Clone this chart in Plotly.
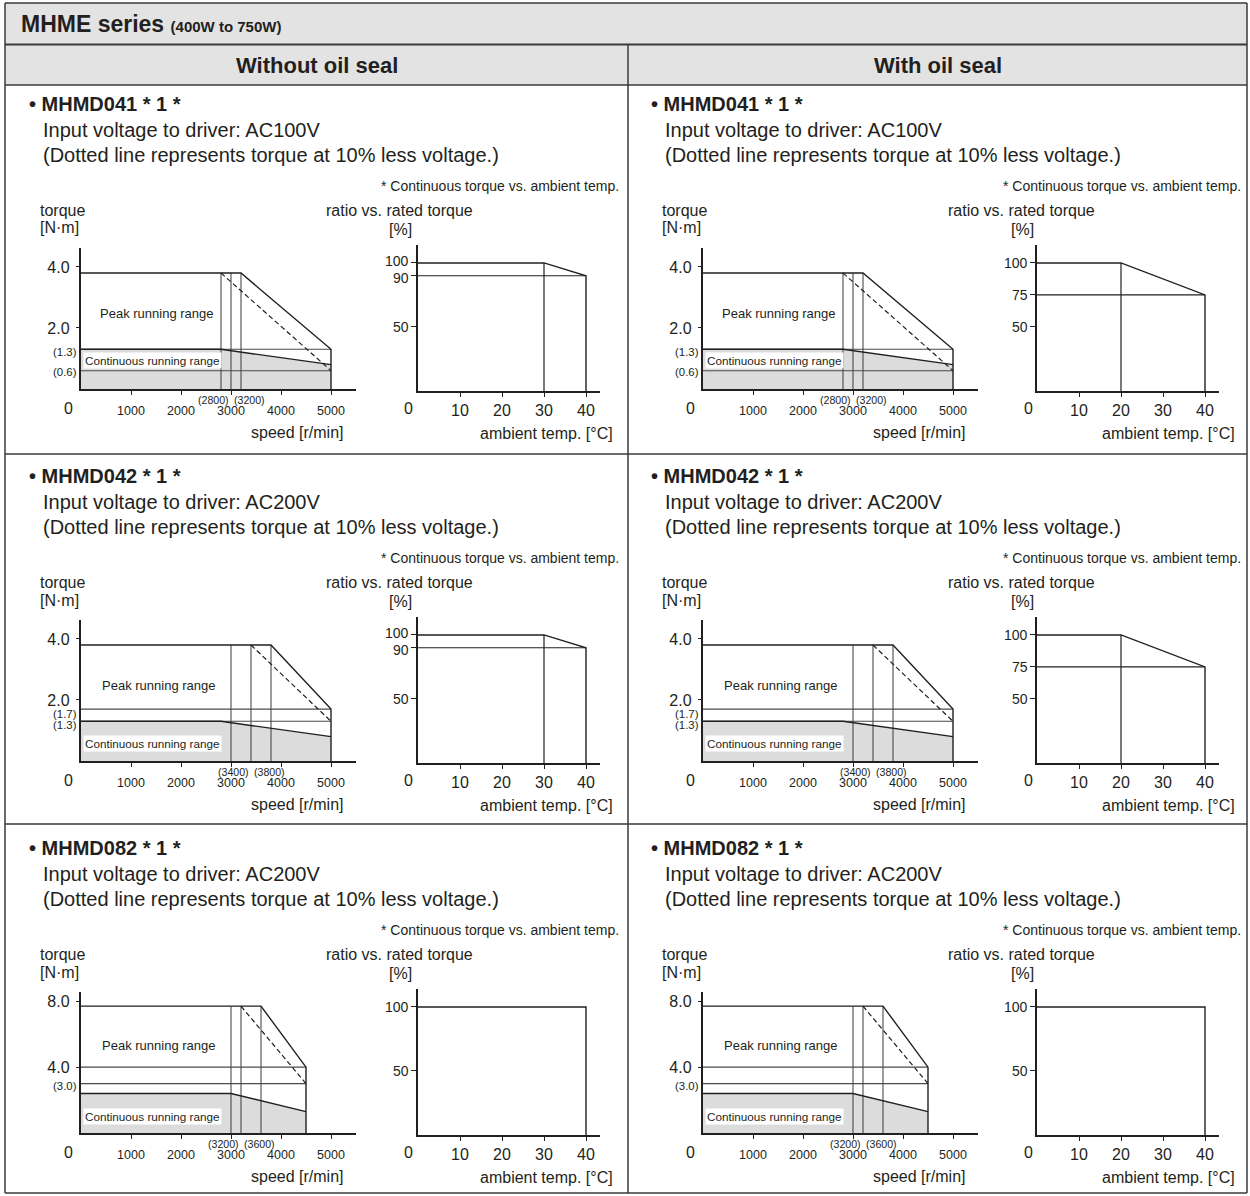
import os, glob
import plotly.graph_objects as go

W, H = 1250, 1196

# ---------------- data ----------------
series_title = "MHME series"
series_sub = "(400W to 750W)"
column_titles = ["Without oil seal", "With oil seal"]
models = ["MHMD041", "MHMD042", "MHMD082"]
input_voltages = ["AC100V", "AC200V", "AC200V"]

speed_tickvals = [1000, 2000, 3000, 4000, 5000]
speed_ticktext = ["1000", "2000", "3000", "4000", "5000"]
temp_tickvals = [10, 20, 30, 40]
temp_ticktext = ["10", "20", "30", "40"]

torque_tickvals = [[2.0, 4.0], [2.0, 4.0], [4.0, 8.0]]
torque_ticktext = [["2.0", "4.0"], ["2.0", "4.0"], ["4.0", "8.0"]]
torque_axis_max = [4.62, 4.62, 8.56]
speed_axis_max = 5500

peak_torque = [3.8, 3.8, 7.7]
peak_corner_speed = [3200, 3800, 3600]
max_speed = [5000, 5000, 4500]
peak_torque_at_max = [1.3, 1.7, 4.0]
dotted_corner_speed = [2800, 3400, 3200]
dotted_torque_at_max = [0.6, 1.3, 3.0]
rated_torque = [1.3, 1.3, 2.4]
cont_corner_speed = [2800, 2800, 3000]
cont_torque_at_max = [0.8, 0.8, 1.3]
guide_speeds = [[2800, 3000, 3200], [3000, 3400, 3800], [3000, 3200, 3600]]
guide_torques = [[1.3, 0.6], [1.7, 1.3], [4.0, 3.0]]
torque_marks = [["(1.3)", "(0.6)"], ["(1.7)", "(1.3)"], ["(3.0)"]]
torque_mark_vals = [[1.3, 0.6], [1.7, 1.3], [3.0]]
speed_marks = [["(2800)", "(3200)"], ["(3400)", "(3800)"], ["(3200)", "(3600)"]]
speed_mark_split = [3000, 3400, 3200]
peak_label_pos = [(330, 2.49), (380, 2.47), (380, 5.29)]
cont_label_pos = [(40, 0.93), (40, 0.56), (40, 0.99)]

# ratio vs ambient temperature  [column][row]
ratio_corner_temp = [[30, 30, 40], [20, 20, 40]]
ratio_at_40 = [[90, 90, 100], [75, 75, 100]]
ratio_tickvals = [[[50, 90, 100], [50, 90, 100], [50, 100]],
                  [[50, 75, 100], [50, 75, 100], [50, 100]]]
temp_axis_max = 43.3
ratio_axis_max = 114.0

# ---------------- style ----------------
FONT = "Liberation Sans, Arial, Helvetica, sans-serif"


def _has_narrow():
    dirs = ["/usr/share/fonts", "/usr/local/share/fonts",
            os.path.expanduser("~/.fonts"), os.path.expanduser("~/.local/share/fonts")]
    for d in dirs:
        if os.path.isdir(d) and glob.glob(os.path.join(d, "**", "*SansNarrow*"), recursive=True):
            return True
    return False


if _has_narrow():
    NARROW = "Liberation Sans Narrow"
    SZ_XT, SZ_PEAK, SZ_CONT, SZ_SMALL, SZ_PAREN = 15, 16, 14.5, 12.5, 13.5
else:
    NARROW = FONT
    SZ_XT, SZ_PEAK, SZ_CONT, SZ_SMALL, SZ_PAREN = 12.5, 13, 11.7, 10.6, 11.4

TXT = "#231f20"
LINE = "#231f20"
GUIDE = "#4a4a4a"
FILL = "#dcdcdc"
BAND = "#e3e3e3"
BORDER = "#3a3a3a"

ROW_DY = [0, 372, 744]
COL_DX_T = [0, 622]
COL_DX_R = [0, 619]
COL_DX_TXT = [0, 622]
PAREN_SHIFT = [[-3, -1.5], [-4.5, -4], [-2]]

fig = go.Figure()
layout = {}
annotations = []
shapes = []


def px_x(x):
    return x / W


def px_y(y):
    return 1 - y / H


def ptext(x, y, text, size, anchor="left", family=FONT, color=TXT):
    annotations.append(dict(x=px_x(x), y=px_y(y), xref="paper", yref="paper", text=text,
                            showarrow=False, xanchor=anchor, yanchor="middle",
                            font=dict(size=size, color=color, family=family)))


def axis_names(i):
    return ("xaxis" if i == 1 else f"xaxis{i}", "yaxis" if i == 1 else f"yaxis{i}",
            "x" if i == 1 else f"x{i}", "y" if i == 1 else f"y{i}")


def line(xs, ys, xr, yr, color=LINE, width=1.3, dash=None):
    fig.add_trace(go.Scatter(x=xs, y=ys, xaxis=xr, yaxis=yr, mode="lines",
                             line=dict(color=color, width=width, dash=dash),
                             hoverinfo="skip", showlegend=False))


def axis_style(**kw):
    d = dict(showgrid=False, zeroline=False, showline=True, linecolor=LINE, linewidth=1.5,
             ticks="outside", ticklen=4, tickwidth=1.2, tickcolor=LINE, fixedrange=True,
             tickfont=dict(size=16, color=TXT, family=FONT), tickmode="array")
    d.update(kw)
    return d


# ---------------- table frame ----------------
L, R, T, B = 5, 1247, 3, 1193
MID = 628
shapes.append(dict(type="rect", xref="paper", yref="paper", x0=px_x(L), x1=px_x(R), y0=px_y(44), y1=px_y(T),
                   fillcolor=BAND, line=dict(width=0), layer="below"))
shapes.append(dict(type="rect", xref="paper", yref="paper", x0=px_x(L), x1=px_x(R), y0=px_y(85), y1=px_y(45),
                   fillcolor=BAND, line=dict(width=0), layer="below"))
for yy, wdt in [(T, 1.5), (44.5, 2.2), (85, 1.5), (454, 1.5), (824, 1.5), (B, 1.5)]:
    shapes.append(dict(type="line", xref="paper", yref="paper", x0=px_x(L), x1=px_x(R), y0=px_y(yy), y1=px_y(yy),
                       line=dict(color=BORDER, width=wdt)))
for xx, y0 in [(L, T), (R, T), (MID, 44.5)]:
    shapes.append(dict(type="line", xref="paper", yref="paper", x0=px_x(xx), x1=px_x(xx), y0=px_y(y0), y1=px_y(B),
                       line=dict(color=BORDER, width=1.5)))

annotations.append(dict(x=px_x(19), y=px_y(24), xref="paper", yref="paper", showarrow=False,
                        xanchor="left", yanchor="middle",
                        text=f"<b>{series_title}</b> <b><span style='font-size:15px'>{series_sub}</span></b>",
                        font=dict(size=23, color=TXT, family=FONT)))
for c in range(2):
    cx = (L + MID) / 2 if c == 0 else (MID + R) / 2
    ptext(cx, 65, f"<b>{column_titles[c]}</b>", 22, anchor="center")

# ---------------- panels ----------------
idx = 0
for c in range(2):
    for r in range(3):
        dy = ROW_DY[r]
        tx = COL_DX_TXT[c]
        # texts
        ptext(27 + tx, 104 + dy, f"<b>• {models[r]} * 1 *</b>", 20)
        ptext(41 + tx, 130 + dy, f"Input voltage to driver: {input_voltages[r]}", 20)
        ptext(41 + tx, 155 + dy, "(Dotted line represents torque at 10% less voltage.)", 20)
        ptext(621 + tx, 186 + dy, "* Continuous torque vs. ambient temp.", 14, anchor="right")
        ptext(38 + tx, 210 + dy, "torque", 16)
        ptext(38 + tx, 228 + dy, "[N·m]", 16)
        ptext(475 + tx, 210 + dy, "ratio vs. rated torque", 16, anchor="right")
        ptext(400 + tx, 229 + dy, "[%]", 16, anchor="center")
        ptext(345 + tx, 432 + dy, "speed [r/min]", 16, anchor="right")
        ptext(615 + tx, 433 + dy, "ambient temp. [°C]", 16, anchor="right")

        # ---- torque vs speed chart ----
        idx += 1
        xk, yk, xr, yr = axis_names(idx)
        x0 = 81 + COL_DX_T[c]
        x1 = x0 + speed_axis_max * 0.05
        ytop, ybot = 248 + dy, 389 + dy
        layout[xk] = axis_style(domain=[px_x(x0), px_x(x1)], range=[0, speed_axis_max], anchor=yr,
                                tickvals=speed_tickvals, ticktext=speed_ticktext,
                                tickfont=dict(size=SZ_XT, color=TXT, family=NARROW),
                                ticklabelstandoff=5)
        layout[yk] = axis_style(domain=[px_y(ybot), px_y(ytop)], range=[0, torque_axis_max[r]], anchor=xr,
                                tickvals=torque_tickvals[r], ticktext=torque_ticktext[r], ticklen=3.5,
                                ticklabelstandoff=3)
        ms, pt, rt = max_speed[r], peak_torque[r], rated_torque[r]
        # continuous running range (shaded)
        fig.add_trace(go.Scatter(x=[0, 0, cont_corner_speed[r], ms, ms],
                                 y=[0, rt, rt, cont_torque_at_max[r], 0],
                                 xaxis=xr, yaxis=yr, mode="lines", fill="toself", fillcolor=FILL,
                                 line=dict(width=0, color=FILL), hoverinfo="skip", showlegend=False))
        # guide lines
        for g in guide_torques[r]:
            line([0, ms], [g, g], xr, yr, color=GUIDE, width=1.1)
        for s in guide_speeds[r]:
            line([s, s], [0, pt], xr, yr, color=GUIDE, width=1.1)
        # continuous boundary
        line([0, cont_corner_speed[r], ms], [rt, rt, cont_torque_at_max[r]], xr, yr, width=1.4)
        # peak boundary
        line([0, peak_corner_speed[r], ms, ms], [pt, pt, peak_torque_at_max[r], 0], xr, yr, width=1.4)
        # dotted (10% less voltage)
        line([dotted_corner_speed[r], ms], [pt, dotted_torque_at_max[r]], xr, yr, width=1.2, dash="5px,3px")

        # labels inside torque chart
        annotations.append(dict(x=0, y=0, xref=xr, yref=yr, text="0", showarrow=False,
                                xshift=-13, yshift=-19, font=dict(size=16, color=TXT, family=FONT)))
        for k, (lab, v) in enumerate(zip(torque_marks[r], torque_mark_vals[r])):
            annotations.append(dict(x=0, y=v, xref=xr, yref=yr, text=lab, showarrow=False,
                                    xanchor="right", xshift=-2, yshift=PAREN_SHIFT[r][k],
                                    font=dict(size=SZ_PAREN, color=TXT, family=NARROW)))
        sm = speed_mark_split[r]
        annotations.append(dict(x=sm, y=0, xref=xr, yref=yr, text=speed_marks[r][0], showarrow=False,
                                xanchor="right", xshift=0, yshift=-11,
                                font=dict(size=SZ_SMALL, color=TXT, family=NARROW)))
        annotations.append(dict(x=sm, y=0, xref=xr, yref=yr, text=speed_marks[r][1], showarrow=False,
                                xanchor="left", xshift=1, yshift=-11,
                                font=dict(size=SZ_SMALL, color=TXT, family=NARROW)))
        annotations.append(dict(x=peak_label_pos[r][0], y=peak_label_pos[r][1], xref=xr, yref=yr,
                                text="Peak running range", showarrow=False, xanchor="left",
                                font=dict(size=SZ_PEAK, color=TXT, family=NARROW)))
        annotations.append(dict(x=cont_label_pos[r][0], y=cont_label_pos[r][1], xref=xr, yref=yr,
                                text="Continuous running range", showarrow=False, xanchor="left",
                                bgcolor="white", borderpad=1,
                                font=dict(size=SZ_CONT, color=TXT, family=NARROW)))

        # ---- ratio vs ambient temperature chart ----
        idx += 1
        xk, yk, xr, yr = axis_names(idx)
        x0 = 418 + COL_DX_R[c]
        x1 = x0 + temp_axis_max * 4.2
        ytop, ybot = 245 + dy, 391 + dy
        layout[xk] = axis_style(domain=[px_x(x0), px_x(x1)], range=[0, temp_axis_max], anchor=yr,
                                tickvals=temp_tickvals, ticktext=temp_ticktext, ticklabelstandoff=0)
        rtv = ratio_tickvals[c][r]
        layout[yk] = axis_style(domain=[px_y(ybot), px_y(ytop)], range=[0, ratio_axis_max], anchor=xr,
                                tickvals=rtv, ticklen=5, showticklabels=False)
        # y tick labels (nudged apart where two ticks sit very close together)
        for v in rtv:
            nudge = 0
            if any(0 < w - v < 15 for w in rtv):
                nudge = -2
            if any(0 < v - w < 15 for w in rtv):
                nudge = 2
            annotations.append(dict(x=0, y=v, xref=xr, yref=yr, text=str(v), showarrow=False,
                                    xanchor="right", yanchor="middle", xshift=-8, yshift=nudge,
                                    borderpad=0, font=dict(size=14, color=TXT, family=FONT)))
        ct, r40 = ratio_corner_temp[c][r], ratio_at_40[c][r]
        if r40 < 100:
            line([0, 40], [r40, r40], xr, yr, width=1.2)
        if ct < 40:
            line([ct, ct], [0, 100], xr, yr, width=1.2)
        line([0, ct, 40, 40], [100, 100, r40, 0], xr, yr, width=1.4)
        annotations.append(dict(x=0, y=0, xref=xr, yref=yr, text="0", showarrow=False,
                                xshift=-9, yshift=-17, font=dict(size=16, color=TXT, family=FONT)))

fig.update_layout(
    width=W, height=H, margin=dict(l=0, r=0, t=0, b=0),
    paper_bgcolor="white", plot_bgcolor="rgba(0,0,0,0)",
    showlegend=False, annotations=annotations, shapes=shapes,
    font=dict(family=FONT, color=TXT),
    **layout,
)

fig.write_html("out.html", config={"displayModeBar": False},
               post_script="document.body.style.margin='0';document.body.style.overflow='hidden';")
